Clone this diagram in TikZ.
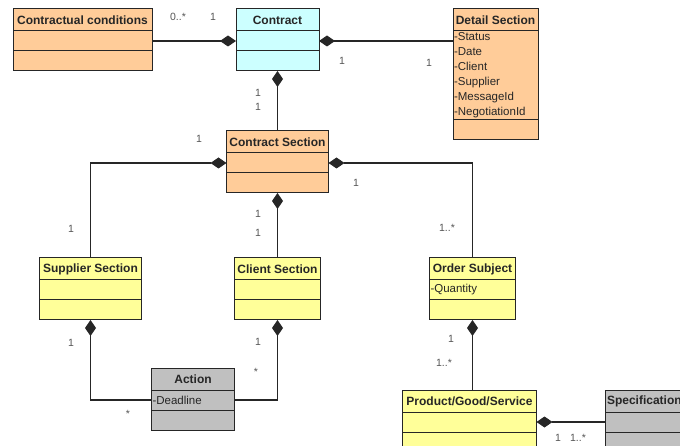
\documentclass[tikz,border=0pt]{standalone}
\usepackage{fontspec}
\setmainfont{Liberation Sans}
\usetikzlibrary{arrows.meta,positioning}
\definecolor{umlOrange}{HTML}{FFCC99}
\definecolor{umlCyan}{HTML}{CCFFFF}
\definecolor{umlYellow}{HTML}{FFFF99}
\definecolor{umlGrey}{HTML}{C0C0C0}
\definecolor{umlLine}{HTML}{262626}
\definecolor{umlLabel}{HTML}{555555}
\tikzset{
  umlhead/.style={rectangle, draw=umlLine, line width=1pt, outer sep=0pt, inner xsep=1.5pt,
    inner ysep=1pt, minimum height=22pt, font=\fontsize{12}{14}\selectfont\bfseries,
    text=black!85, align=center},
  umlpart/.style={rectangle, draw=umlLine, line width=1pt, outer sep=0pt, inner sep=1pt,
    minimum height=20pt},
  umlattr/.style={umlpart, align=left, font=\fontsize{11.5}{15}\selectfont, text=black!85},
  multlab/.style={font=\fontsize{10.5}{12}\selectfont, text=umlLabel, inner sep=0pt},
  complink/.style={-{Diamond[length=16pt,width=11pt]}, draw=umlLine, line width=1.1pt},
  complinkr/.style={{Diamond[length=16pt,width=11pt]}-, draw=umlLine, line width=1.1pt}
}

\begin{document}
\begin{tikzpicture}[x=1pt, y=1pt, node distance=0pt]
\clip (0,0) rectangle (680,-446);
% top row
\node[umlhead, fill=umlOrange, minimum width=139pt] (cc) at (82.5,-20) {Contractual conditions};
\node[umlpart, fill=umlOrange, minimum width=139pt, below=of cc] (cc-a) {};
\node[umlpart, fill=umlOrange, minimum width=139pt, below=of cc-a] (cc-o) {};
\node[umlhead, fill=umlCyan, minimum width=83pt, right=84pt of cc] (con) {Contract};
\node[umlpart, fill=umlCyan, minimum width=83pt, below=of con] (con-a) {};
\node[umlpart, fill=umlCyan, minimum width=83pt, below=of con-a] (con-o) {};
\node[umlhead, fill=umlOrange, minimum width=85pt, right=134pt of con] (det) {Detail Section};
\node[umlattr, fill=umlOrange, text width=83pt, minimum height=89pt, below=of det] (det-a)
  {-Status\\-Date\\-Client\\-Supplier\\-MessageId\\-NegotiationId};
\node[umlpart, fill=umlOrange, minimum width=85pt, below=of det-a] (det-o) {};
% contract section
\node[umlhead, fill=umlOrange, minimum width=102pt, below=60pt of con-o] (csec) {Contract Section};
\node[umlpart, fill=umlOrange, minimum width=102pt, below=of csec] (csec-a) {};
\node[umlpart, fill=umlOrange, minimum width=102pt, below=of csec-a] (csec-o) {};
% sections
\node[umlhead, fill=umlYellow, minimum width=102pt, below left=65pt and 85pt of csec-o] (sup) {Supplier Section};
\node[umlpart, fill=umlYellow, minimum width=102pt, below=of sup] (sup-a) {};
\node[umlpart, fill=umlYellow, minimum width=102pt, below=of sup-a] (sup-o) {};
\node[umlhead, fill=umlYellow, minimum width=86pt, below=65pt of csec-o] (cli) {Client Section};
\node[umlpart, fill=umlYellow, minimum width=86pt, below=of cli] (cli-a) {};
\node[umlpart, fill=umlYellow, minimum width=86pt, below=of cli-a] (cli-o) {};
\node[umlhead, fill=umlYellow, minimum width=86pt, below right=65pt and 101pt of csec-o] (ord) {Order Subject};
\node[umlattr, fill=umlYellow, text width=84pt, below=of ord] (ord-a) {-Quantity};
\node[umlpart, fill=umlYellow, minimum width=86pt, below=of ord-a] (ord-o) {};
% bottom row
\node[umlhead, fill=umlGrey, minimum width=83pt, below right=48pt and 10pt of sup-o] (act) {Action};
\node[umlattr, fill=umlGrey, text width=81pt, below=of act] (act-a) {-Deadline};
\node[umlpart, fill=umlGrey, minimum width=83pt, below=of act-a] (act-o) {};
\node[umlhead, fill=umlYellow, minimum width=134pt, below=70pt of ord-o, xshift=-3pt] (pgs) {Product/Good/Service};
\node[umlpart, fill=umlYellow, minimum width=134pt, below=of pgs] (pgs-a) {};
\node[umlpart, fill=umlYellow, minimum width=134pt, below=of pgs-a] (pgs-o) {};
\node[umlhead, fill=umlGrey, text width=97pt, align=left, right=69pt of pgs] (spec) {Specification};
\node[umlpart, fill=umlGrey, minimum width=100pt, below=of spec] (spec-a) {};
\node[umlpart, fill=umlGrey, minimum width=100pt, below=of spec-a] (spec-o) {};

% compositions
\draw[complink] (cc-a) -- (con-a);
\draw[complinkr] (con-a) -- (con-a -| det-a.west);
\draw[complinkr] (con-o) -- (csec);
\draw[complinkr] (csec-a) -| (sup);
\draw[complinkr] (csec-a) -| (ord);
\draw[complinkr] (csec-o) -- (cli);
\draw[complinkr] (sup-o) |- (act-a);
\draw[complinkr] (cli-o) |- (act-a);
\draw[complinkr] (ord-o) -- (ord-o |- pgs.north);
\draw[complinkr] (pgs-a) -- (spec-a);

% multiplicities
\node[multlab] (m1) at (178,-17) {0..*};
\node[multlab] (m2) at (213,-17) {1};
\node[multlab] (m3) at (342,-61) {1};
\node[multlab] (m4) at (429,-63) {1};
\node[multlab] (m5) at (258,-93) {1};
\node[multlab] (m6) at (258,-107) {1};
\node[multlab] (m7) at (199,-139) {1};
\node[multlab] (m8) at (356,-183) {1};
\node[multlab] (m9) at (71,-229) {1};
\node[multlab] (m10) at (258,-214) {1};
\node[multlab] (m11) at (258,-233) {1};
\node[multlab] (m12) at (447,-228) {1..*};
\node[multlab] (m13) at (71,-343) {1};
\node[multlab] (m14) at (128,-414) {*};
\node[multlab] (m15) at (258,-342) {1};
\node[multlab] (m16) at (256,-372) {*};
\node[multlab] (m17) at (451,-339) {1};
\node[multlab] (m18) at (444,-363) {1..*};
\node[multlab] (m19) at (558,-438) {1};
\node[multlab] (m20) at (578,-438) {1..*};
\end{tikzpicture}
\end{document}
